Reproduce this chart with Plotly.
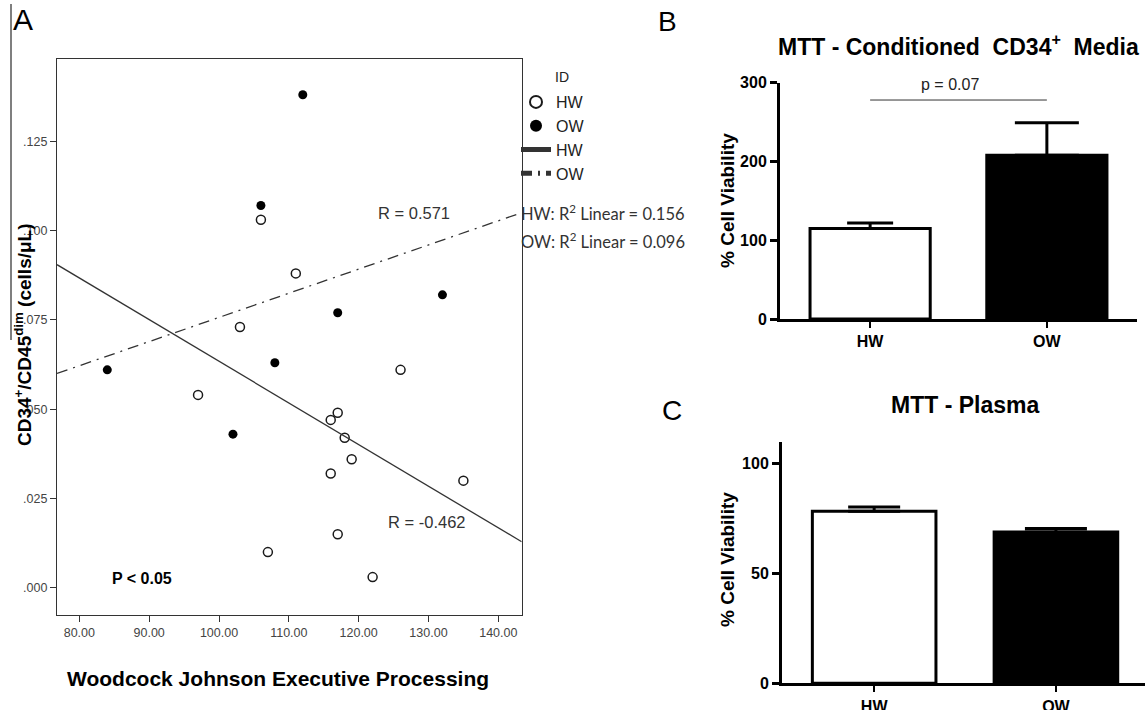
import numpy as np
import plotly.graph_objects as go

# ---------------- Panel A data ----------------
hw_x = [106, 111, 103, 126, 97, 117, 116, 118, 119, 116, 135, 117, 107, 122]
hw_y = [0.103, 0.088, 0.073, 0.061, 0.054, 0.049, 0.047, 0.042, 0.036, 0.032, 0.030, 0.015, 0.010, 0.003]
ow_x = [112, 106, 117, 132, 108, 84, 102]
ow_y = [0.138, 0.107, 0.077, 0.082, 0.063, 0.061, 0.043]
a_xticks = [80, 90, 100, 110, 120, 130, 140]
a_xticklabels = ["80.00", "90.00", "100.00", "110.00", "120.00", "130.00", "140.00"]
a_yticks = [0.000, 0.025, 0.050, 0.075, 0.100, 0.125]
a_yticklabels = [".000", ".025", ".050", ".075", ".100", ".125"]
a_xrange = [76.8, 143.35]
a_yrange = [-0.0076, 0.148]

# ---------------- Panel B / C data ----------------
groups = ["HW", "OW"]
b_mean = [115, 208]
b_err = [7, 41]
b_ticks = [0, 100, 200, 300]
b_sig_y = [278]
c_mean = [78.3, 68.9]
c_err = [2.0, 1.6]
c_ticks = [0, 50, 100]

W, H = 1146, 710
def px(x): return x / W
def py(y): return 1 - y / H

fig = go.Figure()

# Panel A scatter
fig.add_trace(go.Scatter(x=hw_x, y=hw_y, mode="markers", name="HW", legendgroup="m",
                         marker=dict(symbol="circle-open", size=9, color="#1a1a1a", line=dict(width=1.5)),
                         xaxis="x", yaxis="y"))
fig.add_trace(go.Scatter(x=ow_x, y=ow_y, mode="markers", name="OW", legendgroup="m",
                         marker=dict(symbol="circle", size=9, color="#000000"),
                         xaxis="x", yaxis="y"))
# Fit lines
xl = np.array(a_xrange)
k_hw = np.polyfit(hw_x, hw_y, 1)
k_ow = np.polyfit(ow_x, ow_y, 1)
fig.add_trace(go.Scatter(x=xl, y=np.polyval(k_hw, xl), mode="lines", name="HW",
                         line=dict(color="#333333", width=1.3), xaxis="x", yaxis="y"))
fig.add_trace(go.Scatter(x=xl, y=np.polyval(k_ow, xl), mode="lines", name="OW",
                         line=dict(color="#333333", width=1.3, dash="11px,6px,2px,6px"), xaxis="x", yaxis="y"))

# Panel B / C bars
caps_b = [23, 32]
caps_c = [26, 31]
fills = ["white", "black"]
for i, g in enumerate(groups):
    fig.add_trace(go.Bar(x=[i], y=[b_mean[i]], width=0.68, showlegend=False,
                         marker=dict(color=fills[i], line=dict(color="black", width=3)),
                         error_y=dict(type="data", array=[b_err[i]], arrayminus=[0], symmetric=False,
                                      color="black", thickness=3, width=caps_b[i]),
                         xaxis="x2", yaxis="y2"))
    fig.add_trace(go.Bar(x=[i], y=[c_mean[i]], width=0.68, showlegend=False,
                         marker=dict(color=fills[i], line=dict(color="black", width=3)),
                         error_y=dict(type="data", array=[c_err[i]], arrayminus=[0], symmetric=False,
                                      color="black", thickness=3, width=caps_c[i]),
                         xaxis="x3", yaxis="y3"))

axA_font = dict(family="Liberation Sans, Arial", size=12.5, color="#444444")
bold_tick = dict(family="Liberation Sans, Arial", size=16, color="black", weight="bold")

common_a = dict(showline=True, linecolor="#333", linewidth=1.3, mirror=True, ticks="outside", ticklen=6,
                tickcolor="#333", tickfont=axA_font, showgrid=False, zeroline=False, automargin=False)
common_bc = dict(showline=True, linecolor="black", linewidth=3, ticks="outside", tickcolor="black",
                 tickfont=bold_tick, showgrid=False, zeroline=False, automargin=False)

fig.update_layout(
    width=W, height=H, margin=dict(l=0, r=0, t=0, b=0, autoexpand=False),
    paper_bgcolor="white", plot_bgcolor="white", barmode="overlay",
    showlegend=True,
    legend=dict(x=px(516), y=py(85), xanchor="left", yanchor="top",
                font=dict(family="Liberation Sans, Arial", size=16, color="#222"),
                itemsizing="constant", tracegroupgap=0, bgcolor="rgba(0,0,0,0)", itemwidth=30),
    xaxis=dict(domain=[px(57), px(521.7)], range=a_xrange, tickvals=a_xticks, ticktext=a_xticklabels,
               anchor="y", **common_a),
    yaxis=dict(domain=[py(615), py(59)], range=a_yrange, tickvals=a_yticks, ticktext=a_yticklabels,
               anchor="x", **common_a),
    xaxis2=dict(domain=[px(780), px(1137)], range=[-0.51, 1.51], tickvals=[0, 1], ticktext=groups,
                ticklen=6, tickwidth=2, anchor="y2", **common_bc),
    yaxis2=dict(domain=[py(319), py(82.7)], range=[0, 300], tickvals=b_ticks,
                ticklen=7, tickwidth=3, anchor="x2", **common_bc),
    xaxis3=dict(domain=[px(782), px(1145)], range=[-0.507, 1.49], tickvals=[0, 1], ticktext=groups,
                ticklen=6, tickwidth=2, anchor="y3", **common_bc),
    yaxis3=dict(domain=[py(683.3), py(441.7)], range=[0, 110], tickvals=c_ticks,
                ticklen=7, tickwidth=3, anchor="x3", **common_bc),
)

# significance line in panel B
fig.add_shape(type="line", xref="x2", yref="y2", x0=0, x1=1, y0=b_sig_y[0], y1=b_sig_y[0],
              line=dict(color="#333", width=1))
# left border line of the original figure
fig.add_shape(type="line", xref="paper", yref="paper", x0=px(11), x1=px(11), y0=py(4), y1=py(340),
              line=dict(color="#555", width=1.5))

def ann(x, y, text, size, bold=False, color="black", family="Liberation Sans, Arial", angle=0,
        xanchor="center", yanchor="middle"):
    fig.add_annotation(x=px(x), y=py(y), xref="paper", yref="paper", text=text, showarrow=False,
                       textangle=angle, xanchor=xanchor, yanchor=yanchor, borderpad=0,
                       font=dict(family=family, size=size, color=color, weight="bold" if bold else "normal"))

# panel letters
ann(23, 20, "A", 30)
ann(667, 22, "B", 28)
ann(672, 410, "C", 28)

# panel A texts
ann(554, 77, "ID", 14, color="#222", xanchor="left")
ann(23, 335, "CD34<sup>+</sup>/CD45<sup>dim</sup> (cells/μL)", 19, bold=True, angle=-90)
ann(278, 678, "Woodcock Johnson Executive Processing", 21, bold=True)
ann(111, 578, "P &lt; 0.05", 16, bold=True, xanchor="left")
ann(377, 213, "R = 0.571", 16.5, color="#333", xanchor="left")
ann(387, 522, "R = -0.462", 16.5, color="#333", xanchor="left")
ann(520, 213, "HW: R<sup>2</sup> Linear = 0.156", 16.5, color="#333", family="Lato, Open Sans", xanchor="left")
ann(520, 241, "OW: R<sup>2</sup> Linear = 0.096", 16.5, color="#333", family="Lato, Open Sans", xanchor="left")

# panel B / C texts
ann(958, 45, "MTT - Conditioned  CD34<sup>+</sup>  Media", 23, bold=True)
ann(950, 85, "p = 0.07", 16, color="#222")
ann(727, 201, "% Cell Viability", 19, bold=True, angle=-90)
ann(965, 405, "MTT - Plasma", 23, bold=True)
ann(727, 560, "% Cell Viability", 19, bold=True, angle=-90)

fig.write_html("out.html", config={"displayModeBar": False},
               post_script="document.body.style.margin='0';document.body.style.padding='0';document.body.style.overflow='hidden';")
